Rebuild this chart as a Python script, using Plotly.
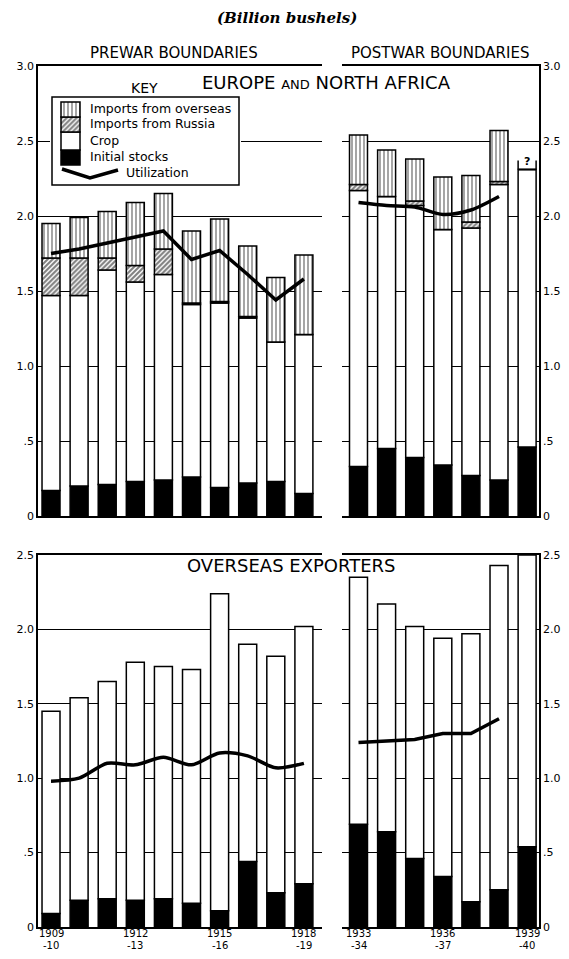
import plotly.graph_objects as go

# The page body has an 8px margin; size the figure so it fits the 569x959 window.
OFF = 8
W, H = 569 - 2 * OFF, 959 - 2 * OFF

# ---------------- data (billion bushels) ----------------
years_prewar = ["1909-10", "1910-11", "1911-12", "1912-13", "1913-14",
                "1914-15", "1915-16", "1916-17", "1917-18", "1918-19"]
years_postwar = ["1933-34", "1934-35", "1935-36", "1936-37", "1937-38",
                 "1938-39", "1939-40"]

# Europe and North Africa, prewar boundaries
eu_pre_stocks = [0.17, 0.20, 0.21, 0.23, 0.24, 0.26, 0.19, 0.22, 0.23, 0.15]
eu_pre_crop = [1.30, 1.27, 1.43, 1.33, 1.37, 1.15, 1.23, 1.10, 0.93, 1.06]
eu_pre_russia = [0.25, 0.25, 0.08, 0.11, 0.17, 0.01, 0.01, 0.01, 0.00, 0.00]
eu_pre_overseas = [0.23, 0.27, 0.31, 0.42, 0.37, 0.48, 0.55, 0.47, 0.43, 0.53]
eu_pre_util = [1.75, 1.78, 1.82, 1.86, 1.90, 1.71, 1.77, 1.61, 1.44, 1.58]

# Europe and North Africa, postwar boundaries
eu_post_stocks = [0.33, 0.45, 0.39, 0.34, 0.27, 0.24, 0.46]
eu_post_crop = [1.84, 1.68, 1.68, 1.57, 1.65, 1.97, 1.85]
eu_post_russia = [0.04, 0.00, 0.03, 0.00, 0.04, 0.02, 0.00]
eu_post_overseas = [0.33, 0.31, 0.28, 0.35, 0.31, 0.34, 0.00]
eu_post_unknown = [0, 0, 0, 0, 0, 0, 0.06]
eu_post_util = [2.09, 2.07, 2.06, 2.01, 2.04, 2.13]

# Overseas exporters
ex_pre_stocks = [0.09, 0.18, 0.19, 0.18, 0.19, 0.16, 0.11, 0.44, 0.23, 0.29]
ex_pre_crop = [1.36, 1.36, 1.46, 1.60, 1.56, 1.57, 2.13, 1.46, 1.59, 1.73]
ex_pre_util = [0.98, 1.00, 1.10, 1.09, 1.14, 1.09, 1.17, 1.15, 1.07, 1.10]

ex_post_stocks = [0.69, 0.64, 0.46, 0.34, 0.17, 0.25, 0.54]
ex_post_crop = [1.66, 1.53, 1.56, 1.60, 1.80, 2.18, 1.96]
ex_post_util = [1.24, 1.25, 1.26, 1.30, 1.30, 1.40]

top_ticks = [0, 0.5, 1.0, 1.5, 2.0, 2.5, 3.0]
top_ticktext = ["0", ".5", "1.0", "1.5", "2.0", "2.5", "3.0"]
bot_ticks = [0, 0.5, 1.0, 1.5, 2.0, 2.5]
bot_ticktext = ["0", ".5", "1.0", "1.5", "2.0", "2.5"]


# ---------------- helpers (window pixels -> paper fraction) ----------------
def fx(p):
    return (p - OFF) / W


def fy(p):
    return 1 - (p - OFF) / H


BAR_W = 0.64
LINE = dict(color="black", width=1.5)
FONT = "DejaVu Sans"

STYLE = {
    "stocks": dict(color="black", line=LINE),
    "crop": dict(color="white", line=LINE),
    "russia": dict(color="white", line=LINE,
                   pattern=dict(shape="/", fgcolor="black", bgcolor="white",
                                size=3.5, solidity=0.6)),
    "overseas": dict(color="white", line=LINE,
                     pattern=dict(shape="|", fgcolor="black", bgcolor="white",
                                  size=4, solidity=0.35)),
}

fig = go.Figure()


def add_stack(xa, ya, segments, name_prefix):
    n = len(segments[0][1])
    xs = list(range(n))
    base = [0.0] * n
    for kind, vals in segments:
        fig.add_trace(go.Bar(
            x=xs, y=vals, base=list(base), width=BAR_W,
            marker=STYLE[kind], xaxis=xa, yaxis=ya,
            showlegend=False, name=f"{name_prefix} {kind}", hoverinfo="skip"))
        base = [b + v for b, v in zip(base, vals)]
    return base


def add_util(xa, ya, vals, shape="linear"):
    fig.add_trace(go.Scatter(
        x=list(range(len(vals))), y=vals, mode="lines",
        line=dict(color="black", width=3.5, shape=shape, smoothing=0.8),
        xaxis=xa, yaxis=ya, showlegend=False, hoverinfo="skip"))


# top left
add_stack("x", "y", [("stocks", eu_pre_stocks), ("crop", eu_pre_crop),
                     ("russia", eu_pre_russia), ("overseas", eu_pre_overseas)], "pre")
add_util("x", "y", eu_pre_util)

# top right
tops = add_stack("x2", "y2", [("stocks", eu_post_stocks), ("crop", eu_post_crop),
                              ("russia", eu_post_russia), ("overseas", eu_post_overseas)], "post")
# open-topped box for unreported imports
ux, uy = [], []
for i, u in enumerate(eu_post_unknown):
    if u > 0:
        for side in (-1, 1):
            ux += [i + side * BAR_W / 2, i + side * BAR_W / 2, None]
            uy += [tops[i], tops[i] + u, None]
        fig.add_annotation(x=i, y=tops[i] + u / 2 + 0.02, xref="x2", yref="y2",
                           text="<b>?</b>", showarrow=False,
                           font=dict(family=FONT, size=11, color="black"))
fig.add_trace(go.Scatter(x=ux, y=uy, mode="lines", line=dict(color="black", width=1.5),
                         xaxis="x2", yaxis="y2", showlegend=False, hoverinfo="skip"))
add_util("x2", "y2", eu_post_util, shape="spline")

# bottom left
add_stack("x3", "y3", [("stocks", ex_pre_stocks), ("crop", ex_pre_crop)], "expre")
add_util("x3", "y3", ex_pre_util, shape="spline")

# bottom right
add_stack("x4", "y4", [("stocks", ex_post_stocks), ("crop", ex_post_crop)], "expost")
add_util("x4", "y4", ex_post_util)

# ---------------- key ----------------
fig.add_trace(go.Bar(x=[93.5], y=[88], base=[0], width=[187],
                     marker=dict(color="white", line=LINE),
                     xaxis="x5", yaxis="y5", showlegend=False, hoverinfo="skip"))
key_rows = [("stocks", 20, 15), ("crop", 35, 18), ("russia", 53, 15), ("overseas", 68, 15)]
for kind, b, h in key_rows:
    fig.add_trace(go.Bar(x=[18.5], y=[h], base=[b], width=[19], marker=STYLE[kind],
                         xaxis="x5", yaxis="y5", showlegend=False, hoverinfo="skip"))
fig.add_trace(go.Scatter(x=[10, 38, 66], y=[16, 7, 15], mode="lines",
                         line=dict(color="black", width=3.5),
                         xaxis="x5", yaxis="y5", showlegend=False, hoverinfo="skip"))

key_labels = [("Imports from overseas", 88, 108), ("Imports from Russia", 88, 124),
              ("Crop", 88, 140), ("Initial stocks", 88, 156), ("Utilization", 124, 173)]
for txt, px_, py_ in key_labels:
    fig.add_annotation(x=fx(px_), y=fy(py_), xref="paper", yref="paper", text=txt,
                       showarrow=False, xanchor="left", yanchor="middle",
                       font=dict(family=FONT, size=12.5, color="black"))


# ---------------- titles ----------------
def ann(text, x, y, size, family=FONT, **kw):
    fig.add_annotation(x=fx(x), y=fy(y), xref="paper", yref="paper", text=text,
                       showarrow=False, xanchor="center", yanchor="middle",
                       font=dict(family=family, size=size, color="black"), **kw)


ann("<b><i>(Billion bushels)</i></b>", 287, 18, 15, family="DejaVu Serif", borderpad=0)
ann("PREWAR BOUNDARIES", 174, 53, 15)
ann("POSTWAR BOUNDARIES", 440, 53, 15)
ann("KEY", 144, 88, 14)
ann("EUROPE <span style='font-size:13px'>AND</span> NORTH AFRICA", 326, 83, 18)
ann("OVERSEAS EXPORTERS", 291, 565, 18)

# ---------------- axes ----------------
tickfont = dict(family=FONT, size=11, color="black")
xtickfont = dict(family=FONT, size=10, color="black")


def year_ticks(years):
    return [(i, y) for i, y in enumerate(years) if i % 3 == 0]


def xaxis(domain, rng, anchor):
    return dict(domain=domain, range=rng, anchor=anchor, showline=True, mirror=True,
                linecolor="black", linewidth=1.5, showgrid=False, zeroline=False,
                fixedrange=True, automargin=False, ticks="", showticklabels=False)


def yaxis(domain, rng, anchor, side, vals, text):
    return dict(domain=domain, range=rng, anchor=anchor, side=side, showline=True,
                linecolor="black", linewidth=1.5, showgrid=True, gridcolor="black",
                gridwidth=1.2, zeroline=False, tickvals=vals, ticktext=text,
                ticks="", tickfont=tickfont, fixedrange=True, automargin=False)


# two-line year labels ("1909" over "-10") placed on the category axis positions
for xa, years in (("x3", years_prewar), ("x4", years_postwar)):
    for i, y in year_ticks(years):
        for txt, ypx in ((y[:4], 933), ("-" + y[-2:], 945)):
            fig.add_annotation(x=i, y=fy(ypx), xref=xa, yref="paper", text=txt,
                               showarrow=False, xanchor="center", yanchor="middle",
                               borderpad=0, font=xtickfont)

xL = [fx(38), fx(322)]
xR = [fx(342), fx(539)]
yT = [fy(516), fy(66)]
yB = [fy(927), fy(555)]
rL = [-0.463, 9.644]
rR = [-0.587, 6.423]

fig.update_layout(
    width=W, height=H, autosize=False,
    margin=dict(l=0, r=0, t=0, b=0, pad=0),
    paper_bgcolor="white", plot_bgcolor="white",
    barmode="overlay", showlegend=False,
    xaxis=xaxis(xL, rL, "y"),
    yaxis=yaxis(yT, [0, 3.0], "x", "left", top_ticks, top_ticktext),
    xaxis2=xaxis(xR, rR, "y2"),
    yaxis2=yaxis(yT, [0, 3.0], "x2", "right", top_ticks, top_ticktext),
    xaxis3=xaxis(xL, rL, "y3"),
    yaxis3=yaxis(yB, [0, 2.5], "x3", "left", bot_ticks, bot_ticktext),
    xaxis4=xaxis(xR, rR, "y4"),
    yaxis4=yaxis(yB, [0, 2.5], "x4", "right", bot_ticks, bot_ticktext),
    xaxis5=dict(domain=[fx(50), fx(241)], range=[-2, 189], anchor="y5", visible=False,
                fixedrange=True),
    yaxis5=dict(domain=[fy(187), fy(95)], range=[-2, 90], anchor="x5", visible=False,
                fixedrange=True),
)

fig.write_html("out.html")
